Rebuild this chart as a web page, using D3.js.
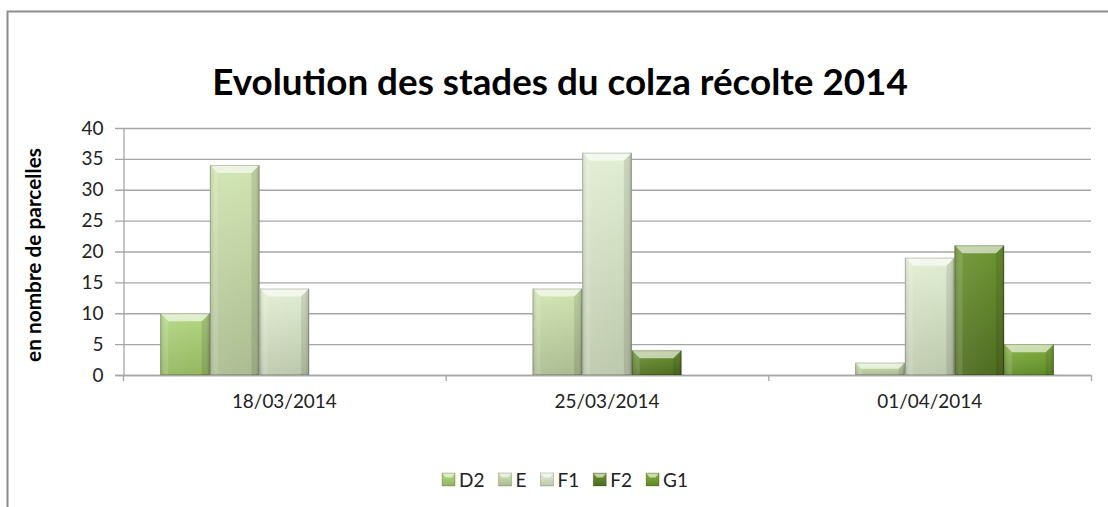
<!DOCTYPE html>
<html>
<head>
<meta charset="utf-8">
<script src="https://cdn.jsdelivr.net/npm/d3@7"></script>
<style>
  body { margin: 0; background: #fff; }
  svg { display: block; font-family: Lato, "Open Sans", sans-serif; }
</style>
</head>
<body>
<svg id="chart" width="1108" height="507"></svg>
<script>
const dates = ["18/03/2014", "25/03/2014", "01/04/2014"];
const stages = ["D2", "E", "F1", "F2", "G1"];
const d2 = [10, 0, 0];
const e = [34, 14, 2];
const f1 = [14, 36, 19];
const f2 = [0, 4, 21];
const g1 = [0, 0, 5];
const yTicks = [0, 5, 10, 15, 20, 25, 30, 35, 40];

const seriesValues = [d2, e, f1, f2, g1];
// light / dark shade for each stage
const colors = {
  D2: ["#b3d682", "#93b65e"],
  E:  ["#d0e4b0", "#abbb90"],
  F1: ["#e2eed3", "#bcc8ab"],
  F2: ["#6d9431", "#4d6b1f"],
  G1: ["#84b03c", "#5e8a26"]
};

const width = 1108, height = 507;
const margin = { top: 128, right: 17, bottom: 132, left: 123 };
const svg = d3.select("#chart");

// fit a text element's font size to a target width
function fit(sel, base, target) {
  const w = sel.node().getComputedTextLength();
  if (w > 0) sel.attr("font-size", base * target / w);
}

// frame
svg.append("rect").attr("x", 7.5).attr("y", 11.5)
  .attr("width", 1200).attr("height", 600)
  .attr("fill", "none").attr("stroke", "#8c8c8c").attr("stroke-width", 2);

const defs = svg.append("defs");
stages.forEach(s => {
  const g = defs.append("linearGradient").attr("id", "grad-" + s)
    .attr("x1", 0).attr("y1", 0).attr("x2", 0).attr("y2", 1);
  g.append("stop").attr("offset", "0%").attr("stop-color", colors[s][0]);
  g.append("stop").attr("offset", "100%").attr("stop-color", colors[s][1]);
  const h = defs.append("linearGradient").attr("id", "side-" + s)
    .attr("x1", 0).attr("y1", 0).attr("x2", 1).attr("y2", 0);
  h.append("stop").attr("offset", "0%").attr("stop-color", "#000").attr("stop-opacity", 0.12);
  h.append("stop").attr("offset", "10%").attr("stop-color", "#fff").attr("stop-opacity", 0.08);
  h.append("stop").attr("offset", "88%").attr("stop-color", "#fff").attr("stop-opacity", 0);
  h.append("stop").attr("offset", "100%").attr("stop-color", "#000").attr("stop-opacity", 0.18);
});

const x0 = d3.scaleBand().domain(dates)
  .range([margin.left, width - margin.right]);
const x1 = d3.scaleBand().domain(stages)
  .range([0, x0.bandwidth()]).paddingOuter(0.75).paddingInner(0);
const y = d3.scaleLinear().domain([0, 40])
  .range([height - margin.bottom, margin.top]);

// gridlines
svg.append("g").selectAll("line").data(yTicks).join("line")
  .attr("x1", margin.left - 8).attr("x2", width - margin.right)
  .attr("y1", d => y(d) + 0.5).attr("y2", d => y(d) + 0.5)
  .attr("stroke", "#a6a6a6").attr("stroke-width", 1.3);

// y axis
const yAxis = svg.append("g")
  .attr("transform", `translate(${margin.left + 0.5},0)`)
  .call(d3.axisLeft(y).tickValues(yTicks).tickSize(0).tickPadding(20));
yAxis.select(".domain").attr("stroke", "#a6a6a6").attr("stroke-width", 1.3);
yAxis.selectAll("text").attr("font-size", 19).attr("fill", "#222")
  .attr("font-family", "Lato, sans-serif");

// x axis
const xAxis = svg.append("g")
  .attr("transform", `translate(0,${y(0) + 0.5})`)
  .call(d3.axisBottom(x0).tickSize(0).tickPadding(19));
xAxis.select(".domain").remove();
const xLabels = xAxis.selectAll("text").attr("font-size", 18).attr("fill", "#222")
  .attr("font-family", "Lato, sans-serif");
fit(d3.select(xLabels.nodes()[0]), 18, 105);
xLabels.attr("font-size", d3.select(xLabels.nodes()[0]).attr("font-size"));
svg.append("line").attr("x1", margin.left - 8).attr("x2", width - margin.right)
  .attr("y1", y(0) + 0.5).attr("y2", y(0) + 0.5)
  .attr("stroke", "#a6a6a6").attr("stroke-width", 1.3);
const boundaries = dates.map(d => x0(d)).concat([x0.range()[1]]);
svg.append("g").selectAll("line").data(boundaries).join("line")
  .attr("x1", d => d + 0.5).attr("x2", d => d + 0.5)
  .attr("y1", y(0)).attr("y2", y(0) + 6)
  .attr("stroke", "#a6a6a6").attr("stroke-width", 1.3);

// bars
const bars = [];
dates.forEach((d, i) => {
  stages.forEach((s, j) => {
    const v = seriesValues[j][i];
    if (v > 0) bars.push({ date: d, stage: s, value: v });
  });
});

const barG = svg.append("g").selectAll("g").data(bars).join("g")
  .attr("transform", b => `translate(${x0(b.date) + x1(b.stage)},${y(b.value)})`);
barG.each(function (b) {
  const g = d3.select(this);
  const w = x1.bandwidth();
  const h = y(0) - y(b.value);
  const bev = Math.min(8, h / 2);
  g.append("rect").attr("width", w).attr("height", h)
    .attr("fill", `url(#grad-${b.stage})`);
  g.append("rect").attr("width", w).attr("height", h)
    .attr("fill", `url(#side-${b.stage})`);
  // top bevel
  g.append("path")
    .attr("d", `M0,0H${w}L${w - bev},${bev}H${bev}Z`)
    .attr("fill", "#fff").attr("fill-opacity", 0.6);
  // left bevel
  g.append("path")
    .attr("d", `M0,0L${bev},${bev}V${h}H0Z`)
    .attr("fill", "#fff").attr("fill-opacity", 0.12);
  // right bevel
  g.append("path")
    .attr("d", `M${w},0L${w - bev},${bev}V${h}H${w}Z`)
    .attr("fill", "#000").attr("fill-opacity", 0.1);
  g.append("rect").attr("x", 0.5).attr("y", 0.5)
    .attr("width", w - 1).attr("height", Math.max(0, h - 1))
    .attr("fill", "none").attr("stroke", "#000").attr("stroke-opacity", 0.18);
});

// title
const title = svg.append("text")
  .attr("x", 560).attr("y", 95).attr("text-anchor", "middle")
  .attr("font-size", 36).attr("font-weight", "bold").attr("fill", "#000")
  .text("Evolution des stades du colza récolte 2014");
fit(title, 36, 696);

// y title
const yTitle = svg.append("text")
  .attr("transform", `translate(41,255) rotate(-90)`)
  .attr("text-anchor", "middle")
  .attr("font-size", 18).attr("font-weight", "bold").attr("fill", "#000")
  .text("en nombre de parcelles");
fit(yTitle, 18, 214);

// legend
const legend = svg.append("g");
let lx = 0;
stages.forEach(s => {
  const item = legend.append("g").attr("transform", `translate(${lx},0)`);
  item.append("rect").attr("x", 0).attr("y", -7).attr("width", 13).attr("height", 13)
    .attr("fill", `url(#grad-${s})`).attr("stroke", "#000").attr("stroke-opacity", 0.2);
  item.append("path").attr("d", "M0.5,-6.5H12.5L9.5,-2.5H3.5Z")
    .attr("fill", "#fff").attr("fill-opacity", 0.6);
  const t = item.append("text").attr("x", 17).attr("y", 6.5)
    .attr("font-size", 19).attr("fill", "#222").text(s);
  lx += 17 + t.node().getComputedTextLength() + 14;
});
legend.attr("transform", `translate(${565 - (lx - 14) / 2},480)`);
</script>
</body>
</html>
